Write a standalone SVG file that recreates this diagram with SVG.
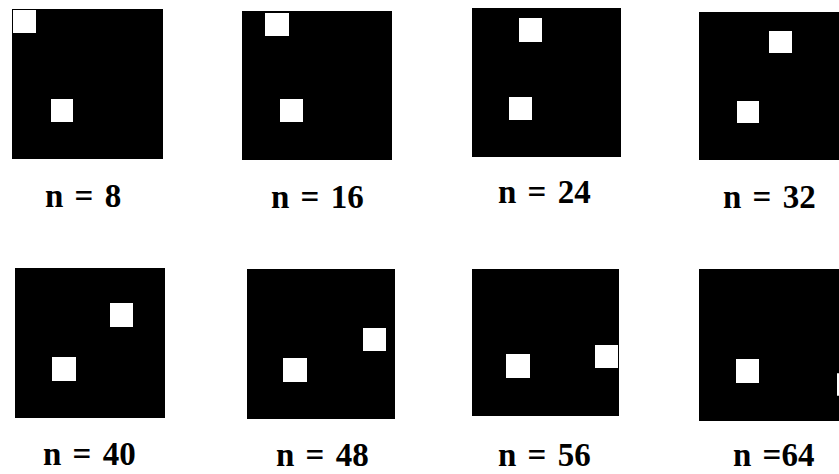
<svg xmlns="http://www.w3.org/2000/svg" width="839" height="474" viewBox="0 0 839 474">
<style>
.bg{fill:#ffffff}
.panel{fill:#000000}
.dot{fill:#ffffff}
.lbl{font-family:"Liberation Serif","Times New Roman",serif;font-weight:bold;font-size:33px;word-spacing:3px;fill:#000000}
</style>
<rect class="bg" x="0" y="0" width="839" height="474"/>
<g id="panel-n8">
<rect class="panel" x="12" y="9" width="151" height="150"/>
<rect class="dot" x="13" y="10" width="23" height="23"/>
<rect class="dot" x="51" y="99" width="22" height="23"/>
<text class="lbl" x="45" y="207">n = 8</text>
</g>
<g id="panel-n16">
<rect class="panel" x="242" y="11" width="150" height="149"/>
<rect class="dot" x="265" y="13" width="24" height="23"/>
<rect class="dot" x="280" y="99" width="23" height="23"/>
<text class="lbl" x="271" y="208">n = 16</text>
</g>
<g id="panel-n24">
<rect class="panel" x="472" y="8" width="149" height="149"/>
<rect class="dot" x="519" y="18" width="23" height="24"/>
<rect class="dot" x="509" y="97" width="23" height="23"/>
<text class="lbl" x="498" y="203">n = 24</text>
</g>
<g id="panel-n32">
<rect class="panel" x="699" y="12" width="140" height="148"/>
<rect class="dot" x="769" y="31" width="23" height="22"/>
<rect class="dot" x="737" y="101" width="22" height="22"/>
<text class="lbl" x="723" y="208">n = 32</text>
</g>
<g id="panel-n40">
<rect class="panel" x="15" y="268" width="150" height="150"/>
<rect class="dot" x="110" y="303" width="23" height="24"/>
<rect class="dot" x="52" y="357" width="24" height="24"/>
<text class="lbl" x="43" y="465">n = 40</text>
</g>
<g id="panel-n48">
<rect class="panel" x="247" y="269" width="148" height="150"/>
<rect class="dot" x="363" y="328" width="23" height="23"/>
<rect class="dot" x="283" y="358" width="24" height="24"/>
<text class="lbl" x="276" y="466">n = 48</text>
</g>
<g id="panel-n56">
<rect class="panel" x="472" y="269" width="147" height="147"/>
<rect class="dot" x="595" y="345" width="23" height="23"/>
<rect class="dot" x="506" y="354" width="24" height="24"/>
<text class="lbl" x="498" y="466">n = 56</text>
</g>
<g id="panel-n64">
<rect class="panel" x="699" y="269" width="140" height="152"/>
<rect class="dot" x="736" y="359" width="23" height="24"/>
<rect class="dot" x="837" y="373" width="2" height="23" rx="1"/>
<text class="lbl" x="733" y="466">n =64</text>
</g>
<g id="connectors"/>
</svg>
